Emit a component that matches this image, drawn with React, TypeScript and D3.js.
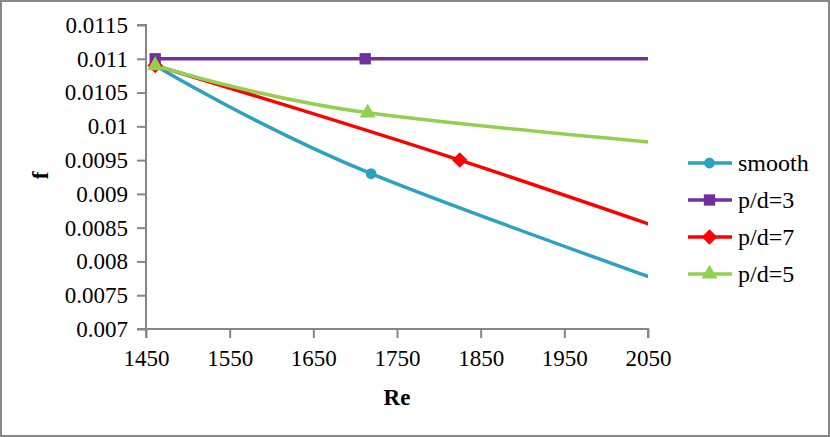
import * as d3 from 'd3';
import React, { useEffect, useRef } from 'react';

// values (last point of each series lies past the axis end and is clipped)
const smoothRe = [1461, 1719, 2250];
const smoothF = [0.0109, 0.0093, 0.0069];
const pd3Re = [1461, 1712, 2250];
const pd3F = [0.011, 0.011, 0.011];
const pd7Re = [1461, 1825, 2250];
const pd7F = [0.0109, 0.0095, 0.0077];
const pd5Re = [1461, 1715, 2250];
const pd5F = [0.0109, 0.0102, 0.00955];

const seriesNames = ['smooth', 'p/d=3', 'p/d=7', 'p/d=5'];
const xTicks = [1450, 1550, 1650, 1750, 1850, 1950, 2050];
const yTicks = [0.007, 0.0075, 0.008, 0.0085, 0.009, 0.0095, 0.01, 0.0105, 0.011, 0.0115];
const yTickLabels = ['0.007', '0.0075', '0.008', '0.0085', '0.009', '0.0095', '0.01', '0.0105', '0.011', '0.0115'];

const App = () => {
  const ref = useRef<SVGSVGElement>(null);

  useEffect(() => {
    const W = 830;
    const H = 437;
    const margin = { top: 25, right: 182, bottom: 108, left: 146 };
    const width = W - margin.left - margin.right;
    const height = H - margin.top - margin.bottom;
    const font = 'Liberation Serif, serif';
    const axisColor = '#868686';

    const svg = d3.select(ref.current);
    svg.selectAll('*').remove();
    svg.attr('width', W).attr('height', H);

    svg.append('rect')
      .attr('x', 1).attr('y', 1)
      .attr('width', W - 2).attr('height', H - 2)
      .attr('fill', '#fff')
      .attr('stroke', '#888888')
      .attr('stroke-width', 2);

    const g = svg.append('g').attr('transform', `translate(${margin.left}, ${margin.top})`);

    const x = d3.scaleLinear().domain([1450, 2050]).range([0, width]);
    const y = d3.scaleLinear().domain([0.007, 0.0115]).range([height, 0]);

    // axes
    const yAxis = g.append('g')
      .call(d3.axisLeft(y).tickValues(yTicks).tickSize(9).tickPadding(9)
        .tickFormat((d, i) => yTickLabels[i]));
    const xAxis = g.append('g')
      .attr('transform', `translate(0, ${height})`)
      .call(d3.axisBottom(x).tickValues(xTicks).tickSize(9).tickPadding(12)
        .tickFormat((d) => String(d)));
    [yAxis, xAxis].forEach((ax) => {
      ax.attr('font-family', font).attr('font-size', 23);
      ax.select('.domain').attr('stroke', axisColor).attr('stroke-width', 2);
      ax.selectAll('.tick line').attr('stroke', axisColor).attr('stroke-width', 2);
      ax.selectAll('.tick text').attr('fill', '#000');
    });
    yAxis.select('.domain').attr('d', `M-9,${height}H0V0H-9`);
    xAxis.select('.domain').attr('d', `M0,9V0H${width}V9`);

    // axis titles
    svg.append('text')
      .attr('x', 397).attr('y', 405)
      .attr('text-anchor', 'middle')
      .attr('font-family', font).attr('font-size', 23).attr('font-weight', 'bold')
      .text('Re');
    svg.append('text')
      .attr('transform', 'translate(48, 175.5) rotate(-90)')
      .attr('text-anchor', 'middle')
      .attr('font-family', font).attr('font-size', 23).attr('font-weight', 'bold')
      .text('f');

    svg.append('defs').append('clipPath').attr('id', 'plotclip')
      .append('rect').attr('x', -10).attr('y', -10).attr('width', width + 10).attr('height', height + 20);

    const series = [
      { name: seriesNames[0], color: '#2CA2C1', shape: d3.symbolCircle, size: 92, rot: 0, pts: smoothRe.map((r, i) => ({ re: r, f: smoothF[i] })) },
      { name: seriesNames[1], color: '#7030A0', shape: d3.symbolSquare, size: 128, rot: 0, pts: pd3Re.map((r, i) => ({ re: r, f: pd3F[i] })) },
      { name: seriesNames[2], color: '#FF0000', shape: d3.symbolSquare, size: 120, rot: 45, pts: pd7Re.map((r, i) => ({ re: r, f: pd7F[i] })) },
      { name: seriesNames[3], color: '#92D050', shape: d3.symbolTriangle, size: 110, rot: 0, pts: pd5Re.map((r, i) => ({ re: r, f: pd5F[i] })) },
    ];

    const line = d3.line<{ re: number; f: number }>()
      .x((d) => x(d.re))
      .y((d) => y(d.f))
      .curve(d3.curveCatmullRom.alpha(0));

    const plot = g.append('g').attr('clip-path', 'url(#plotclip)');
    series.forEach((s) => {
      plot.append('path')
        .datum(s.pts)
        .attr('fill', 'none')
        .attr('stroke', s.color)
        .attr('stroke-width', 3.5)
        .attr('d', line);
    });
    series.forEach((s) => {
      g.selectAll(null)
        .data(s.pts.filter((p) => p.re <= 2050))
        .enter()
        .append('path')
        .attr('transform', (d) => `translate(${x(d.re)}, ${y(d.f)}) rotate(${s.rot})`)
        .attr('d', d3.symbol().type(s.shape).size(s.size))
        .attr('fill', s.color);
    });

    // legend
    const legend = svg.append('g').attr('transform', 'translate(688, 163)');
    series.forEach((s, i) => {
      const row = legend.append('g').attr('transform', `translate(0, ${i * 37})`);
      row.append('line').attr('x1', 0).attr('x2', 44).attr('y1', 0).attr('y2', 0)
        .attr('stroke', s.color).attr('stroke-width', 3.5);
      row.append('path').attr('transform', `translate(21.5, 0) rotate(${s.rot})`)
        .attr('d', d3.symbol().type(s.shape).size(s.size)).attr('fill', s.color);
      row.append('text').attr('x', 50).attr('y', 7.5)
        .attr('font-family', font).attr('font-size', 24)
        .text(s.name);
    });
  }, []);

  return <svg ref={ref} style={{ position: 'absolute', left: 0, top: 0 }}></svg>;
};

export default App;
